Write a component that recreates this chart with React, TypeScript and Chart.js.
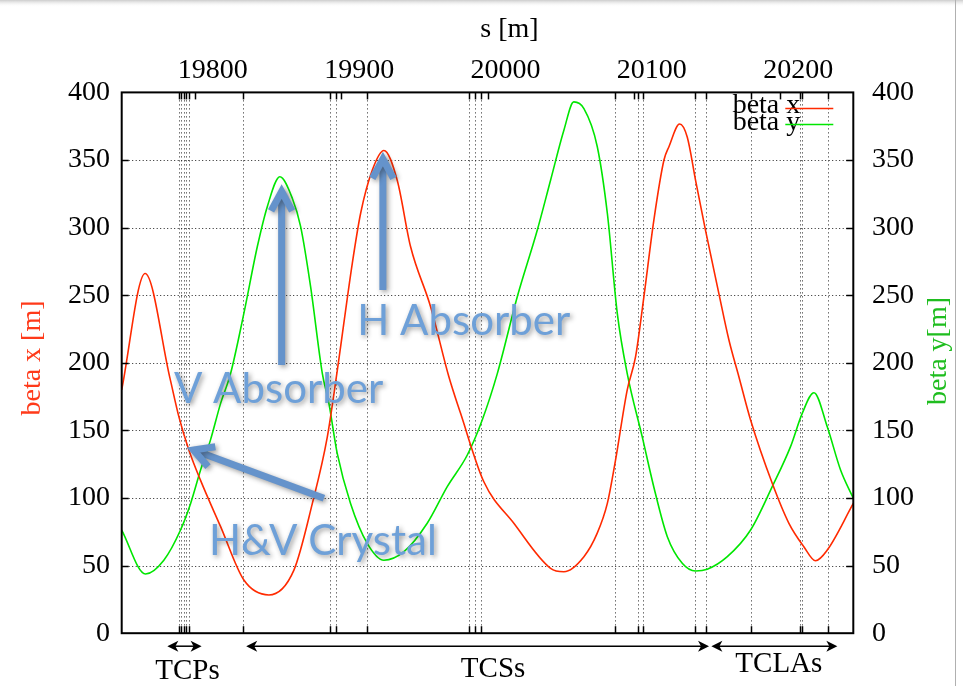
import React, { useEffect, useRef } from 'react';
import { Chart, registerables } from 'chart.js';

Chart.register(...registerables);

// ---- axis ranges & ticks ----
const S_MIN = 19750;
const S_MAX = 20250;
const sTicks = [19800, 19900, 20000, 20100, 20200];
const betaGrid = [50, 100, 150, 200, 250, 300, 350];

// ---- beta x (red) ----
const betaXs = [19750, 19766.0, 19782.9, 19789.1, 19795.9, 19803.9, 19817.6, 19833.5, 19850.6, 19867.7, 19880.3, 19890.5, 19897.3, 19907.6, 19913.3, 19921.3, 19929.2, 19938.3, 19947.4, 19961.1, 19973.6, 19981.6, 19997.5, 20018.0, 20043.1, 20052.2, 20065.9, 20075.0, 20081.9, 20087.5, 20095.5, 20101.2, 20106.9, 20113.7, 20120.6, 20124.0, 20131.3, 20136.5, 20142.2, 20149.0, 20158.1, 20165.0, 20171.8, 20179.8, 20194.6, 20206.0, 20216.2, 20224.2, 20232.2, 20250];
const betaXv = [180, 266, 189, 160, 135.5, 113, 78.8, 39.3, 28.3, 46.7, 96, 145, 194, 273.6, 310.6, 342.6, 357, 335, 286, 241.5, 189.7, 162.6, 112, 81.3, 48, 45.5, 56.6, 74, 96, 128, 180, 204.5, 249, 305.6, 350, 359.8, 376.6, 367, 335, 298, 251.4, 216.9, 189.7, 157.7, 110.9, 81.3, 64, 53.6, 61.5, 96];

// ---- beta y (green) ----
const betaYs = [19750, 19766.3, 19778.8, 19790.2, 19797.1, 19803.9, 19810.7, 19817.6, 19824.4, 19833.5, 19842.7, 19849.5, 19858.1, 19866.6, 19872.3, 19879.1, 19887.1, 19891.6, 19897.3, 19906.4, 19917.8, 19929.2, 19942.9, 19958.8, 19972.5, 19986.2, 19996.4, 20006.7, 20020.4, 20034.0, 20043.1, 20052.2, 20059.0, 20065.9, 20075.0, 20081.9, 20088.7, 20095.5, 20105.8, 20113.7, 20122.9, 20133.1, 20142.2, 20150.2, 20163.9, 20179.8, 20194.6, 20207.1, 20215.1, 20223.1, 20232.2, 20241.3, 20250];
const betaYv = [76.3, 43.8, 54, 76.3, 96, 120.7, 143, 170, 192, 236.6, 286, 315.5, 337.6, 321.7, 300.7, 256.3, 192.2, 170, 133, 96, 66.5, 54, 60.3, 81.3, 108.4, 131.8, 157.7, 192, 249, 298, 335, 372, 393, 388, 360, 310.6, 236.6, 192, 145, 108, 71.4, 51.7, 46, 47.3, 56.6, 76.3, 108.4, 138, 162.6, 177.9, 152.7, 120.7, 99.8];

// ---- collimator positions (dotted lines) ----
const collimatorS = [19788.9, 19790.6, 19792.3, 19794.0, 19795.7, 19833.1, 19892.3, 19896.2, 19917.8, 19987.3, 19991.2, 19995.8, 20086.9, 20102.8, 20106.5, 20141.5, 20149.0, 20179.8, 20213.5, 20215.1, 20232.6];

// ---- collimator families (bottom arrows) ----
const groupNames = ['TCPs', 'TCSs', 'TCLAs'];
const groupFromS = [19781.2, 19835.1, 20153.0];
const groupToS = [19804.6, 20151.4, 20239.1];
const groupLabelS = [19795.0, 20003.8, 20199.1];

// ---- blue annotations ----
const annotText = ['V Absorber', 'H Absorber', 'H&V Crystal'];
const annotS = [19785.7, 19911.0, 19809.6];
const annotBeta = [170, 220.6, 57.8];
const arrowFromS = [19859.3, 19928.5, 19888.2];
const arrowFromBeta = [198.4, 253.8, 99.8];
const arrowToS = [19859.3, 19928.5, 19795.9];
const arrowToBeta = [330.3, 354.4, 136.8];

const RED = '#ff2a00';
const GREEN = '#00e600';
const SERIF = '"Liberation Serif", "Times New Roman", serif';
const BLUE_TEXT = '#6ea0d8';
const BLUE_ARROW = '#6593cb';

function seg(ctx: CanvasRenderingContext2D, x1: number, y1: number, x2: number, y2: number) {
  ctx.beginPath();
  ctx.moveTo(x1, y1);
  ctx.lineTo(x2, y2);
  ctx.stroke();
}

function filledHead(ctx: CanvasRenderingContext2D, tx: number, ty: number, dir: number) {
  const len = 11, half = 5.5;
  ctx.beginPath();
  ctx.moveTo(tx, ty);
  ctx.lineTo(tx - dir * len, ty - half);
  ctx.lineTo(tx - dir * (len - 3), ty);
  ctx.lineTo(tx - dir * len, ty + half);
  ctx.closePath();
  ctx.fill();
}

const decor = {
  id: 'decor',
  beforeDraw(chart: any) {
    const { ctx, width, height } = chart;
    ctx.save();
    ctx.fillStyle = '#ffffff';
    ctx.fillRect(0, 0, width, height);
    const g = ctx.createLinearGradient(0, 0, 0, 7);
    g.addColorStop(0, '#cccccc');
    g.addColorStop(1, 'rgba(255,255,255,0)');
    ctx.fillStyle = g;
    ctx.fillRect(0, 0, width, 7);
    ctx.fillStyle = '#b0b0b0';
    ctx.fillRect(955, 0, 1, height);
    ctx.restore();
  },
  beforeDatasetsDraw(chart: any) {
    const { ctx, chartArea: a, scales } = chart;
    const xs = scales.x, ys = scales.y;
    ctx.save();
    ctx.strokeStyle = '#222';
    ctx.lineWidth = 1;
    ctx.setLineDash([1, 2.5]);
    for (const b of betaGrid) {
      const y = Math.round(ys.getPixelForValue(b)) + 0.5;
      seg(ctx, a.left, y, a.right, y);
    }
    ctx.setLineDash([1, 3]);
    for (const s of collimatorS) {
      const x = Math.round(xs.getPixelForValue(s)) + 0.5;
      seg(ctx, x, a.top, x, a.bottom);
    }
    ctx.restore();
  },
  afterDatasetsDraw(chart: any) {
    const { ctx, chartArea: a, scales } = chart;
    const xs = scales.x, ys = scales.y;
    ctx.save();
    // inward tick marks
    ctx.strokeStyle = '#000';
    ctx.lineWidth = 1.5;
    const tl = 7;
    for (const b of betaGrid) {
      const y = Math.round(ys.getPixelForValue(b)) + 0.5;
      seg(ctx, a.left, y, a.left + tl, y);
      seg(ctx, a.right - tl, y, a.right, y);
    }
    for (const s of collimatorS) {
      const x = Math.round(xs.getPixelForValue(s)) + 0.5;
      seg(ctx, x, a.top, x, a.top + tl);
      seg(ctx, x, a.bottom, x, a.bottom - tl);
    }
    for (const s of sTicks) {
      const x = Math.round(xs.getPixelForValue(s)) + 0.5;
      seg(ctx, x, a.top, x, a.top + tl);
    }
    // frame
    ctx.lineWidth = 2;
    ctx.strokeRect(a.left, a.top, a.right - a.left, a.bottom - a.top);

    // legend
    ctx.font = `28px ${SERIF}`;
    ctx.fillStyle = '#000';
    ctx.textAlign = 'right';
    ctx.textBaseline = 'alphabetic';
    ctx.fillText('beta x', a.right - 53, a.top + 21);
    ctx.fillText('beta y', a.right - 53, a.top + 38);
    ctx.lineWidth = 1.5;
    ctx.strokeStyle = RED;
    seg(ctx, a.right - 68, a.top + 16, a.right - 20, a.top + 16);
    ctx.strokeStyle = GREEN;
    seg(ctx, a.right - 68, a.top + 32, a.right - 20, a.top + 32);

    // axis titles
    ctx.fillStyle = '#000';
    ctx.textAlign = 'center';
    ctx.fillText('s [m]', (a.left + a.right) / 2 + 22, 37);
    ctx.save();
    ctx.translate(40, 358);
    ctx.rotate(-Math.PI / 2);
    ctx.fillStyle = '#ff3a1a';
    ctx.fillText('beta x [m]', 0, 0);
    ctx.restore();
    ctx.save();
    ctx.translate(946, 351);
    ctx.rotate(-Math.PI / 2);
    ctx.fillStyle = '#1fbd1f';
    ctx.fillText('beta y[m]', 0, 0);
    ctx.restore();

    // bottom collimator family arrows
    ctx.strokeStyle = '#000';
    ctx.fillStyle = '#000';
    ctx.lineWidth = 1.5;
    const ay = a.bottom + 13;
    const labelY = [679, 677, 672];
    for (let i = 0; i < groupNames.length; i++) {
      const x1 = xs.getPixelForValue(groupFromS[i]);
      const x2 = xs.getPixelForValue(groupToS[i]);
      seg(ctx, x1 + 4, ay, x2 - 4, ay);
      filledHead(ctx, x1, ay, -1);
      filledHead(ctx, x2, ay, 1);
      ctx.font = `29px ${SERIF}`;
      ctx.textAlign = 'center';
      ctx.fillText(groupNames[i], xs.getPixelForValue(groupLabelS[i]), labelY[i]);
    }

    // blue annotations
    ctx.shadowColor = 'rgba(40,40,40,0.45)';
    ctx.shadowBlur = 5;
    ctx.shadowOffsetX = 2;
    ctx.shadowOffsetY = 2;
    ctx.strokeStyle = BLUE_ARROW;
    ctx.lineWidth = 7;
    ctx.lineCap = 'butt';
    ctx.lineJoin = 'miter';
    for (let i = 0; i < arrowFromS.length; i++) {
      const x1 = xs.getPixelForValue(arrowFromS[i]);
      const y1 = ys.getPixelForValue(arrowFromBeta[i]);
      const x2 = xs.getPixelForValue(arrowToS[i]);
      const y2 = ys.getPixelForValue(arrowToBeta[i]);
      const ang = Math.atan2(y2 - y1, x2 - x1);
      const tipX = x2 - Math.cos(ang) * 5, tipY = y2 - Math.sin(ang) * 5;
      ctx.beginPath();
      ctx.moveTo(x1, y1);
      ctx.lineTo(tipX, tipY);
      ctx.stroke();
      const hl = 22, ha = 0.5;
      ctx.beginPath();
      ctx.moveTo(tipX - hl * Math.cos(ang - ha), tipY - hl * Math.sin(ang - ha));
      ctx.lineTo(tipX, tipY);
      ctx.lineTo(tipX - hl * Math.cos(ang + ha), tipY - hl * Math.sin(ang + ha));
      ctx.stroke();
    }
    ctx.fillStyle = BLUE_TEXT;
    ctx.font = '42px Lato, "Open Sans", sans-serif';
    ctx.textAlign = 'left';
    ctx.textBaseline = 'alphabetic';
    for (let i = 0; i < annotText.length; i++) {
      ctx.fillText(annotText[i], xs.getPixelForValue(annotS[i]), ys.getPixelForValue(annotBeta[i]));
    }
    ctx.restore();
  },
};

const tickFont = { family: SERIF, size: 28, lineHeight: 1.2 };

export default function App() {
  const ref = useRef<HTMLCanvasElement>(null);
  useEffect(() => {
    const chart = new Chart(ref.current as HTMLCanvasElement, {
      type: 'line',
      data: {
        datasets: [
          {
            label: 'beta x',
            data: betaXs.map((s, i) => ({ x: s, y: betaXv[i] })),
            borderColor: RED,
            borderWidth: 1.6,
            pointRadius: 0,
            fill: false,
            cubicInterpolationMode: 'monotone',
            xAxisID: 'x',
            yAxisID: 'y',
          },
          {
            label: 'beta y',
            data: betaYs.map((s, i) => ({ x: s, y: betaYv[i] })),
            borderColor: GREEN,
            borderWidth: 1.6,
            pointRadius: 0,
            fill: false,
            cubicInterpolationMode: 'monotone',
            xAxisID: 'x',
            yAxisID: 'y2',
          },
        ],
      },
      options: {
        animation: false,
        responsive: false,
        maintainAspectRatio: false,
        events: [],
        layout: { padding: 0 },
        plugins: { legend: { display: false }, tooltip: { enabled: false } },
        scales: {
          x: {
            type: 'linear',
            position: 'bottom',
            min: S_MIN,
            max: S_MAX,
            ticks: { display: false },
            grid: { display: false, drawTicks: false },
            border: { display: false },
            afterFit: (s: any) => { s.height = 52.8; },
          },
          x2: {
            type: 'linear',
            position: 'top',
            min: S_MIN,
            max: S_MAX,
            afterBuildTicks: (s: any) => { s.ticks = sTicks.map((v) => ({ value: v })); },
            ticks: {
              labelOffset: 18,
              padding: 5,
              font: tickFont,
              color: '#000',
              maxRotation: 0,
              autoSkip: false,
              callback: (v: any) => String(v),
            },
            grid: { display: false, drawTicks: false },
            border: { display: false },
            afterFit: (s: any) => { s.height = 92.4; },
          },
          y: {
            type: 'linear',
            position: 'left',
            min: 0,
            max: 400,
            ticks: { stepSize: 50, padding: 11.7, font: tickFont, color: '#000' },
            grid: { display: false, drawTicks: false },
            border: { display: false },
            afterFit: (s: any) => { s.width = 121.7; },
          },
          y2: {
            type: 'linear',
            position: 'right',
            min: 0,
            max: 400,
            ticks: { stepSize: 50, padding: 18.7, font: tickFont, color: '#000' },
            grid: { display: false, drawTicks: false },
            border: { display: false },
            afterFit: (s: any) => { s.width = 109.7; },
          },
        },
      } as any,
      plugins: [decor],
    });
    return () => chart.destroy();
  }, []);
  return (
    <div style={{ position: 'absolute', left: 0, top: 0, width: 963, height: 686, background: '#fff' }}>
      <canvas ref={ref} width={963} height={686} style={{ display: 'block', width: 963, height: 686 }} />
    </div>
  );
}
